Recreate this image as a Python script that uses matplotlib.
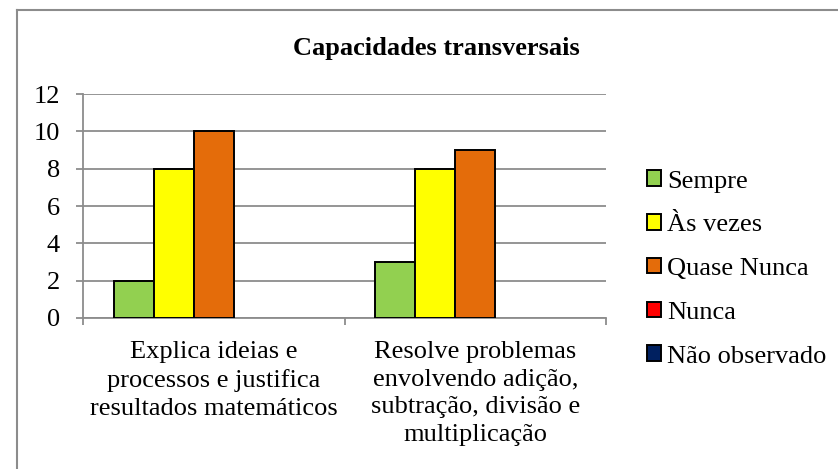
import matplotlib
matplotlib.use("Agg")
import matplotlib.pyplot as plt
import numpy as np
from matplotlib.lines import Line2D
from matplotlib.patches import Patch

categories = ["Explica ideias e\nprocessos e justifica\nresultados matemáticos",
              "Resolve problemas\nenvolvendo adição,\nsubtração, divisão e\nmultiplicação"]
series_names = ["Sempre", "Às vezes", "Quase Nunca", "Nunca", "Não observado"]
sempre = [2, 3]
as_vezes = [8, 8]
quase_nunca = [10, 9]
nunca = [0, 0]
nao_observado = [0, 0]
series_values = [sempre, as_vezes, quase_nunca, nunca, nao_observado]
colors = ["#92D050", "#FFFF00", "#E46C0A", "#FF0000", "#002060"]
yticks = [0, 2, 4, 6, 8, 10, 12]
title = "Capacidades transversais"

plt.rcParams['font.family'] = ['Liberation Serif', 'DejaVu Serif']
FS = 19
W, H = 838, 469

fig = plt.figure(figsize=(W/100, H/100), dpi=100)
ax = fig.add_axes([83/W, 1-318/H, (606-83)/W, (318-94)/H])

x = np.arange(len(categories))
n = len(series_names)
w = 40/261.5
for i, (vals, c, name) in enumerate(zip(series_values, colors, series_names)):
    offs = (i - (n-1)/2) * w
    lws = [1.4 if v > 0 else 0 for v in vals]
    ax.bar(x + offs, vals, width=w, color=c, edgecolor="black", linewidth=lws, zorder=3, label=name)

ax.set_xlim(-0.5, len(categories) - 0.5)
ax.set_ylim(0, 12)
ax.set_yticks(yticks)
ax.set_yticklabels([str(t) for t in yticks], fontsize=FS)
ax.yaxis.grid(True, color="#8C8C8C", linewidth=1.3, zorder=0)
ax.set_axisbelow(True)
ax.tick_params(axis='y', length=5, width=1.3, color="#8C8C8C", pad=11.5, labelsize=FS)

ax.set_xticks(x)
ax.set_xticklabels(categories, fontsize=FS, linespacing=1.34, va='top')
ax.tick_params(axis='x', length=0, pad=16.4)
ax.set_xticks([-0.5, 0.5, 1.5], minor=True)
ax.tick_params(axis='x', which='minor', length=5, width=1.3, color="#8C8C8C")

for s in ["top", "right"]:
    ax.spines[s].set_visible(False)
for s in ["left", "bottom"]:
    ax.spines[s].set_color("#8C8C8C")
    ax.spines[s].set_linewidth(1.3)

fig.text(436.5/W, 1-55/H, title, ha="center", va="baseline", fontsize=FS, fontweight="bold")

handles = [Patch(facecolor=c, edgecolor="black", linewidth=1.4) for c in colors]
leg = fig.legend(handles, series_names, loc="center left", bbox_to_anchor=(647/W, 1-269/H),
                 frameon=False, fontsize=FS, handlelength=0.53, handleheight=0.53,
                 handletextpad=0.23, labelspacing=0.82, borderaxespad=0, borderpad=0)

# chart border (left and top visible)
fig.add_artist(Line2D([16.5/W, 16.5/W], [0, 1-10/H], transform=fig.transFigure, color="#8C8C8C", linewidth=1.5))
fig.add_artist(Line2D([16.5/W, 1], [1-10/H, 1-10/H], transform=fig.transFigure, color="#8C8C8C", linewidth=1.5))

fig.savefig("out.png", dpi=100)
